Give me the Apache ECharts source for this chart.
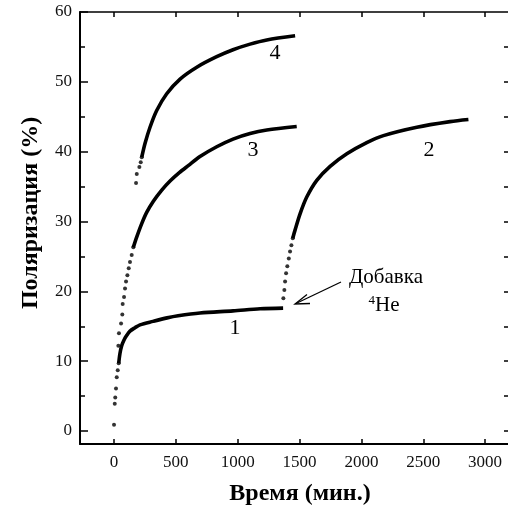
<!DOCTYPE html>
<html>
<head>
<meta charset="utf-8">
<script src="https://cdn.jsdelivr.net/npm/echarts@6/dist/echarts.min.js"></script>
<style>
html,body{margin:0;padding:0;background:#fff;}
#chart{width:508px;height:513px;}
</style>
</head>
<body>
<div id="chart"></div>
<script>
// Tick labels
const xTickValues = [0, 500, 1000, 1500, 2000, 2500, 3000];
const yTickValues = [0, 10, 20, 30, 40, 50, 60];
const yMinorTickValues = [5, 15, 25, 35, 45, 55];
const yRightTickValues = [0, 5, 10, 15, 20, 25, 30, 35, 40, 45, 50, 55];

// Curve 1: sparse start dots and dense part [time, polarization]
const curve1Dots = [[0,0.9],[6,3.9],[10,4.8],[16,6.1],[22,7.7],[30,8.7],[38,9.7]];
const curve1Line = [[38,9.7],[48,11.1],[62,12.2],[80,13.0],[103,13.7],[129,14.3],[170,14.8],[210,15.2],[315,15.7],[429,16.2],[518,16.5],[695,16.9],[962,17.2],[1181,17.5],[1367,17.6]];

// Curve 2 (after 4He addition)
const curve2Dots = [[1369,19.0],[1377,20.2],[1383,21.4],[1391,22.6],[1401,23.6],[1413,24.7],[1423,25.7],[1434,26.6],[1445,27.6]];
const curve2Line = [[1445,27.6],[1464,28.8],[1504,31.1],[1558,33.5],[1639,35.9],[1747,37.9],[1882,39.7],[2043,41.3],[2178,42.3],[2448,43.5],[2717,44.3],[2865,44.6]];

// Curve 3
const curve3Dots = [[35,12.2],[40,14.0],[57,15.4],[67,16.7],[70,18.2],[81,19.2],[89,20.4],[97,21.4],[108,22.3],[119,23.3],[129,24.2],[143,25.2],[156,26.3]];
const curve3Line = [[156,26.3],[184,27.8],[224,29.7],[264,31.3],[318,32.9],[386,34.5],[453,35.8],[528,37.0],[600,38.0],[695,39.3],[830,40.7],[962,41.8],[1100,42.6],[1235,43.1],[1477,43.6]];

// Curve 4
const curve4Dots = [[178,35.5],[184,36.8],[205,37.8],[216,38.5],[224,39.2]];
const curve4Line = [[224,39.2],[251,41.2],[291,43.5],[345,45.9],[426,48.3],[534,50.4],[669,52.1],[830,53.6],[962,54.6],[1100,55.4],[1235,56.0],[1464,56.6]];

const curveNames = ['1','2','3','4'];

const chart = echarts.init(document.getElementById('chart'));
const FONT = '"Liberation Serif", "DejaVu Serif", serif';
const X_MIN = -275, X_MAX = 3185, Y_MIN = -1.86, Y_MAX = 60;

function dotSeries(data){
  return {type:'scatter', data, symbolSize:4, itemStyle:{color:'#000'}, xAxisIndex:0, yAxisIndex:0, silent:true, z:5};
}
function lineSeries(data){
  return {type:'line', data, smooth:0.3, showSymbol:false, symbol:'none',
    lineStyle:{color:'#000', width:3.6}, xAxisIndex:0, yAxisIndex:0, silent:true, z:5};
}
const plain = v => String(v);

const option = {
  animation:false,
  backgroundColor:'#fff',
  grid:{left:80, top:12, right:0, bottom:69, containLabel:false},
  xAxis:[
    {type:'value', position:'bottom', min:X_MIN, max:X_MAX,
      axisLine:{show:true, onZero:false, lineStyle:{color:'#000', width:2}},
      axisTick:{show:true, inside:true, length:5, customValues:xTickValues, lineStyle:{color:'#000', width:1.5}},
      axisLabel:{show:true, customValues:xTickValues, formatter:plain, margin:10, fontFamily:FONT, fontSize:17, color:'#111'},
      splitLine:{show:false}},
    {type:'value', position:'top', min:X_MIN, max:X_MAX,
      axisLine:{show:true, onZero:false, lineStyle:{color:'#000', width:1.5}},
      axisTick:{show:true, inside:true, length:5, customValues:xTickValues, lineStyle:{color:'#000', width:1.5}},
      axisLabel:{show:false}, splitLine:{show:false}}
  ],
  yAxis:[
    {type:'value', position:'left', min:Y_MIN, max:Y_MAX,
      axisLine:{show:true, onZero:false, lineStyle:{color:'#000', width:2}},
      axisTick:{show:true, inside:true, length:8, customValues:yTickValues, lineStyle:{color:'#000', width:1.5}},
      axisLabel:{show:true, customValues:yTickValues, formatter:plain, margin:8, fontFamily:FONT, fontSize:17, color:'#111'},
      splitLine:{show:false}},
    {type:'value', position:'left', min:Y_MIN, max:Y_MAX,
      axisLine:{show:false, onZero:false},
      axisTick:{show:true, inside:true, length:5, customValues:yMinorTickValues, lineStyle:{color:'#000', width:1.5}},
      axisLabel:{show:false}, splitLine:{show:false}},
    {type:'value', position:'right', min:Y_MIN, max:Y_MAX,
      axisLine:{show:false, onZero:false},
      axisTick:{show:true, inside:true, length:4, customValues:yRightTickValues, lineStyle:{color:'#000', width:1.5}},
      axisLabel:{show:false}, splitLine:{show:false}}
  ],
  series:[
    dotSeries(curve1Dots), lineSeries(curve1Line),
    dotSeries(curve2Dots), lineSeries(curve2Line),
    dotSeries(curve3Dots), lineSeries(curve3Line),
    dotSeries(curve4Dots), lineSeries(curve4Line)
  ],
  graphic:[
    {type:'text', x:300, y:494, style:{text:'Время (мин.)', font:'bold 24px '+FONT, fill:'#000', textAlign:'center', textVerticalAlign:'middle'}},
    {type:'text', x:31, y:213, rotation:Math.PI/2, style:{text:'Поляризация (%)', font:'bold 24px '+FONT, fill:'#000', textAlign:'center', textVerticalAlign:'middle'}},
    {type:'text', x:235, y:328, style:{text:curveNames[0], font:'22px '+FONT, fill:'#000', textAlign:'center', textVerticalAlign:'middle'}},
    {type:'text', x:429, y:150, style:{text:curveNames[1], font:'22px '+FONT, fill:'#000', textAlign:'center', textVerticalAlign:'middle'}},
    {type:'text', x:253, y:150, style:{text:curveNames[2], font:'22px '+FONT, fill:'#000', textAlign:'center', textVerticalAlign:'middle'}},
    {type:'text', x:275, y:53, style:{text:curveNames[3], font:'22px '+FONT, fill:'#000', textAlign:'center', textVerticalAlign:'middle'}},
    {type:'text', x:386, y:277, style:{text:'Добавка', font:'21px '+FONT, fill:'#000', textAlign:'center', textVerticalAlign:'middle'}},
    {type:'text', x:384, y:305, style:{text:'{s|4}He', font:'21px '+FONT, fill:'#000', textAlign:'center', textVerticalAlign:'middle',
      rich:{s:{font:'13px '+FONT, fill:'#000', verticalAlign:'top', padding:[0,0,9,0]}}}},
    {type:'line', shape:{x1:341, y1:282, x2:297, y2:303}, style:{stroke:'#000', lineWidth:1.3}},
    {type:'polyline', shape:{points:[[307,294.5],[295,304],[310,303.5]]}, style:{stroke:'#000', lineWidth:1.3, fill:null}}
  ]
};
chart.setOption(option);
</script>
</body>
</html>
